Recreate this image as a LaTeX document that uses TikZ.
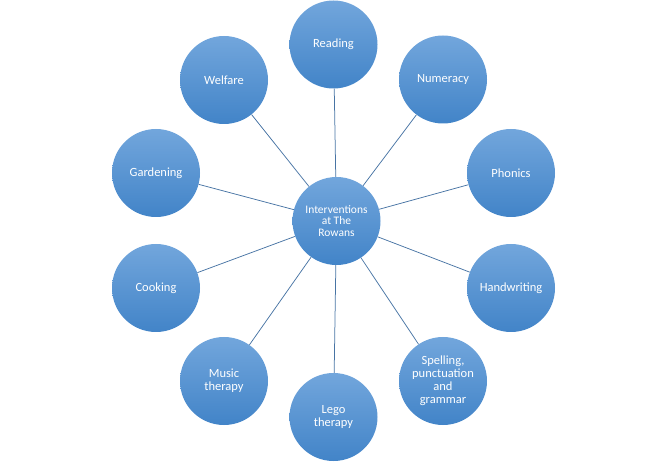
\documentclass[tikz,border=0pt]{standalone}
\usepackage{fontspec}
\setmainfont{Carlito}

\definecolor{ringtop}{RGB}{114,166,220}
\definecolor{ringbot}{RGB}{66,132,200}
\definecolor{spoke}{RGB}{72,116,164}

\begin{document}
\begin{tikzpicture}
      [x=1pt, y=-1pt,
      topic/.style={circle, minimum size=88pt, inner sep=0pt, align=center,
        top color=ringtop, bottom color=ringbot, draw=none, text=white,
        font=\fontsize{12.5}{13}\selectfont},
      hub/.style={topic, font=\fontsize{11.5}{11.5}\selectfont},
      spoke/.style={draw=spoke, line width=0.75pt},
      ]
      \useasboundingbox (0,0) rectangle (667,462);
      \node[hub] (C) at (336.5,221) {Interventions\\at The\\Rowans};
      \node[topic] (N1) at (333.5,44.5) {Reading};
      \node[topic] (N2) at (443,79.5) {Numeracy};
      \node[topic] (N3) at (511,173) {Phonics};
      \node[topic] (N4) at (511,288) {Handwriting};
      \node[topic] (N5) at (443,381) {Spelling,\\punctuation\\and\\grammar};
      \node[topic] (N6) at (333.5,417) {Lego\\therapy};
      \node[topic] (N7) at (224,381) {Music\\therapy};
      \node[topic] (N8) at (156,288) {Cooking};
      \node[topic] (N9) at (156,173) {Gardening};
      \node[topic] (N10) at (224,80) {Welfare};

      \draw[spoke] (C) -- (N1);
      \draw[spoke] (C) -- (N2);
      \draw[spoke] (C) -- (N3);
      \draw[spoke] (C) -- (N4);
      \draw[spoke] (C) -- (N5);
      \draw[spoke] (C) -- (N6);
      \draw[spoke] (C) -- (N7);
      \draw[spoke] (C) -- (N8);
      \draw[spoke] (C) -- (N9);
      \draw[spoke] (C) -- (N10);
    \end{tikzpicture}
\end{document}
